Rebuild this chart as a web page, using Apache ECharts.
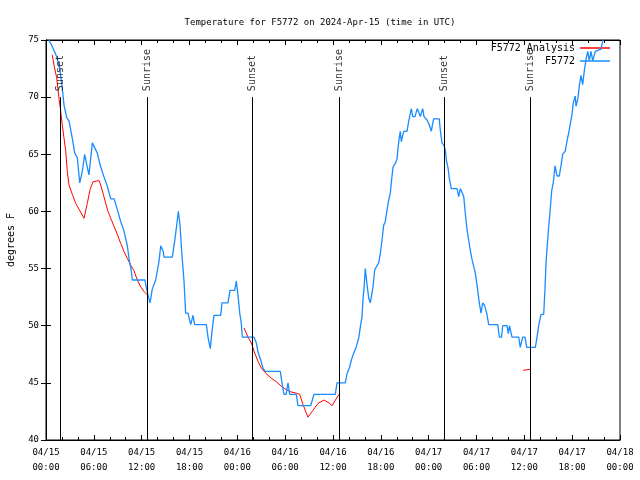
<!DOCTYPE html>
<html><head><meta charset="utf-8">
<script src="https://cdn.jsdelivr.net/npm/echarts@6/dist/echarts.min.js"></script>
<style>html,body{margin:0;padding:0;background:#fff}#c{width:640px;height:480px}</style>
</head><body><div id="c"></div>
<script>
const chartTitle = 'Temperature for F5772 on 2024-Apr-15 (time in UTC)';
const yName = 'degrees F';
const obsName = 'F5772';
const anaName = 'F5772 Analysis';
// hours since 04/15 00:00 UTC
const obsHours = [0.38,1.00,1.42,1.76,2.04,2.26,2.60,2.89,3.30,3.60,
3.93,4.23,4.55,4.85,5.11,5.39,5.64,5.81,6.02,6.44,
6.77,7.19,7.69,8.12,8.53,8.94,9.37,9.78,10.20,10.41,
10.70,10.83,12.42,12.51,12.79,13.05,13.33,13.76,14.17,14.39,
14.71,14.80,15.84,16.14,16.40,16.60,16.81,17.02,17.31,17.52,
17.81,18.15,18.44,18.65,20.11,20.32,20.61,20.82,21.07,21.91,
22.08,22.83,23.08,23.67,23.87,24.08,24.30,24.50,24.62,26.09,
26.38,26.59,26.93,27.22,27.51,29.39,29.60,29.85,30.11,30.36,
30.57,31.40,31.61,33.20,33.62,36.29,36.50,37.54,37.76,38.05,
38.30,38.60,38.89,39.22,39.43,39.64,39.76,39.93,40.05,40.27,
40.48,40.68,40.89,41.02,41.23,41.43,41.73,41.93,42.15,42.36,
42.56,42.77,42.99,43.19,43.31,43.53,43.82,44.03,44.15,44.32,
44.44,44.57,44.87,45.28,45.50,45.70,45.82,46.00,46.29,46.41,
46.57,46.82,46.95,47.12,47.25,47.42,47.79,48.01,48.21,48.33,
48.51,48.63,49.33,49.46,49.67,49.89,50.09,50.21,50.43,50.59,
50.84,51.56,51.77,51.97,52.18,52.40,52.60,52.81,53.02,53.22,
53.44,53.65,53.85,54.06,54.35,54.57,54.78,55.00,55.28,55.53,
56.66,56.86,57.14,57.29,57.83,57.99,58.14,58.33,58.45,59.29,
59.49,59.79,60.08,60.30,61.38,61.55,61.80,62.09,62.43,62.59,
62.72,62.84,63.06,63.22,63.43,63.63,63.85,64.10,64.39,64.60,
64.81,65.14,65.31,65.57,65.77,65.98,66.14,66.39,66.48,66.70,
66.90,67.11,67.32,67.52,67.74,67.95,68.15,68.36,68.58,68.74,
68.90,69.62,69.83,70.12];
const obsTemps = [75.0,74.1,73.4,72.3,70.8,69.3,68.2,67.9,66.4,65.1,
64.7,62.5,63.5,65.0,64.1,63.2,63.2,66.0,66.0,65.1,
64.1,63.2,62.2,61.1,61.1,60.2,59.1,58.3,57.0,55.9,
54.8,54.0,54.0,53.6,52.7,52.0,53.2,54.0,55.6,57.0,
56.5,56.0,56.0,57.4,58.8,60.0,58.8,56.5,53.9,51.1,
51.1,50.1,50.9,50.1,50.1,49.0,48.0,49.5,50.9,50.9,
52.0,52.0,53.1,53.1,53.9,52.7,51.1,50.2,49.0,49.0,
48.5,47.7,47.0,46.3,46.0,46.0,45.0,44.0,44.0,45.0,
44.0,44.0,43.0,43.0,44.0,44.0,45.0,45.0,45.8,46.3,
47.0,47.6,48.1,48.9,49.9,50.8,52.3,53.6,55.0,53.6,
52.4,52.0,52.0,53.4,54.9,55.0,55.5,56.3,57.5,58.8,
59.1,60.1,61.0,61.6,62.5,63.9,64.2,64.6,65.5,66.5,
67.0,66.1,67.0,67.0,67.9,68.6,69.0,68.3,68.3,68.6,
69.0,69.0,68.3,68.3,69.0,68.3,68.0,67.7,67.3,67.0,
67.7,68.1,68.1,67.1,66.0,65.8,65.4,64.5,63.8,62.9,
62.0,62.0,61.3,62.0,62.0,61.3,59.8,58.4,57.5,56.6,
55.8,55.2,54.6,53.6,52.0,51.1,52.0,51.8,51.1,50.1,
50.1,49.0,49.0,50.0,50.0,49.3,50.0,50.0,49.0,49.0,
48.1,49.0,49.0,48.1,48.1,48.8,50.0,51.0,51.0,53.2,
55.5,56.7,58.7,59.9,61.8,62.5,64.0,63.1,63.1,64.0,
65.0,65.3,66.0,66.9,67.0,68.5,69.5,70.1,69.2,69.8,
71.0,71.9,71.1,72.3,73.3,74.0,73.2,74.0,73.2,73.2,
74.0,74.2,74.9,75.8];
const ana1Hours = [0.79,1.00,1.34,1.63,1.84,2.04,2.26,2.47,2.67,2.89,3.30,3.73,4.14,4.77,5.18,5.52,5.90,6.65,6.86,7.19,7.49,7.78,8.12,8.53,8.94,9.37,9.78,10.20,10.62,11.04,11.45,11.88,12.29,12.71];
const ana1Temps = [73.7,72.8,71.7,69.9,68.8,67.6,66.4,65.3,63.5,62.3,61.5,60.7,60.2,59.4,60.7,61.9,62.6,62.7,62.3,61.5,60.7,60.0,59.4,58.7,58.0,57.2,56.5,55.9,55.3,54.8,54.0,53.4,53.0,52.7];
const ana2Hours = [24.84,25.34,25.75,26.18,26.59,27.01,27.63,28.26,28.89,29.52,30.14,30.77,31.40,31.82,32.24,32.86,33.49,34.12,34.87,35.59,35.88,36.31,36.75];
const ana2Temps = [49.8,49.0,48.5,47.6,46.9,46.3,45.8,45.4,45.1,44.7,44.4,44.2,44.1,44.0,43.1,42.0,42.6,43.2,43.5,43.2,43.0,43.5,44.0];
const ana3Hours = [59.85,60.85];
const ana3Temps = [46.1,46.2];
const eventHours = [1.80,12.71,25.88,36.80,50.00,60.75];
const eventNames = ['Sunset','Sunrise','Sunset','Sunrise','Sunset','Sunrise'];
const eventTop = 70;
const yMin = 40, yMax = 75, yStep = 5;
const xMin = 0, xMax = 72, xStep = 6;

const zip = (a, b) => a.map((v, i) => [v, b[i]]);
const anaData = [].concat(zip(ana1Hours, ana1Temps), [[12.8, null]], zip(ana2Hours, ana2Temps), [[37, null]], zip(ana3Hours, ana3Temps));
const FONT = 'DejaVu Sans Mono';
const pad = n => (n < 10 ? '0' : '') + n;
function fmtX(v) {
  const day = 15 + Math.floor(v / 24);
  const hh = Math.round(v % 24);
  return '04/' + pad(day) + '\n' + pad(hh) + ':00';
}
const chart = echarts.init(document.getElementById('c'), null, {renderer: 'canvas'});
const axisCommonX = {
  type: 'value', min: xMin, max: xMax, interval: xStep,
  axisLine: {show: true, lineStyle: {color: '#000', width: 1}},
  axisTick: {show: true, inside: true, length: 5, lineStyle: {color: '#000'}},
  minorTick: {show: true, splitNumber: 3, length: 3, lineStyle: {color: '#000'}},
  splitLine: {show: false}
};
const axisCommonY = {
  type: 'value', min: yMin, max: yMax, interval: yStep,
  axisLine: {show: true, lineStyle: {color: '#000', width: 1}},
  axisTick: {show: true, inside: true, length: 5, lineStyle: {color: '#000'}},
  splitLine: {show: false}
};
chart.setOption({
  animation: false,
  backgroundColor: '#fff',
  title: {text: chartTitle, left: 'center', top: 13, textStyle: {fontFamily: FONT, fontSize: 9, fontWeight: 'normal', color: '#000'}},
  grid: {left: 46, right: 20, top: 40, bottom: 40, show: true, borderColor: '#000', borderWidth: 1, containLabel: false, outerBoundsMode: 'none'},
  legend: [
    {data: [anaName], orient: 'vertical', right: 30, top: 43, padding: 0, align: 'right', icon: 'rect', itemWidth: 30, itemHeight: 1.5,
     textStyle: {fontFamily: FONT, fontSize: 10, color: '#000'}},
    {data: [obsName], orient: 'vertical', right: 30, top: 56, padding: 0, align: 'right', icon: 'rect', itemWidth: 30, itemHeight: 1.5,
     textStyle: {fontFamily: FONT, fontSize: 10, color: '#000'}}
  ],
  xAxis: [
    Object.assign({}, axisCommonX, {position: 'bottom',
      axisLabel: {show: true, formatter: fmtX, fontFamily: FONT, fontSize: 9, color: '#000', lineHeight: 15, margin: 5, showMinLabel: true, showMaxLabel: true}}),
    Object.assign({}, axisCommonX, {position: 'top', axisLabel: {show: false}})
  ],
  yAxis: [
    Object.assign({}, axisCommonY, {position: 'left', name: yName, nameLocation: 'middle', nameGap: 30,
      nameTextStyle: {fontFamily: FONT, fontSize: 10, color: '#000'},
      axisLabel: {show: true, fontFamily: FONT, fontSize: 9, color: '#000', margin: 7}}),
    Object.assign({}, axisCommonY, {position: 'right', axisLabel: {show: false}})
  ],
  series: [
    {name: anaName, type: 'line', data: anaData, showSymbol: false, connectNulls: false,
     color: '#ff0000', lineStyle: {color: '#ff0000', width: 1}, z: 3},
    {name: obsName, type: 'line', data: zip(obsHours, obsTemps), showSymbol: false,
     color: '#1a8cff', lineStyle: {color: '#1a8cff', width: 1.3}, z: 4},
    {name: 'events', type: 'scatter', symbolSize: 0, silent: true, z: 5,
     data: eventHours.map((h, i) => ({value: [h, eventTop], name: eventNames[i]})),
     label: {show: true, formatter: p => p.name, position: [0, -6], rotate: 90, align: 'left', verticalAlign: 'middle',
       fontFamily: FONT, fontSize: 10, color: '#000'},
     markLine: {silent: true, symbol: ['none', 'none'], label: {show: false},
       lineStyle: {color: '#000', width: 1, type: 'solid'},
       data: eventHours.map(h => [{coord: [h, eventTop]}, {coord: [h, yMin]}])}
    }
  ]
});
</script></body></html>
